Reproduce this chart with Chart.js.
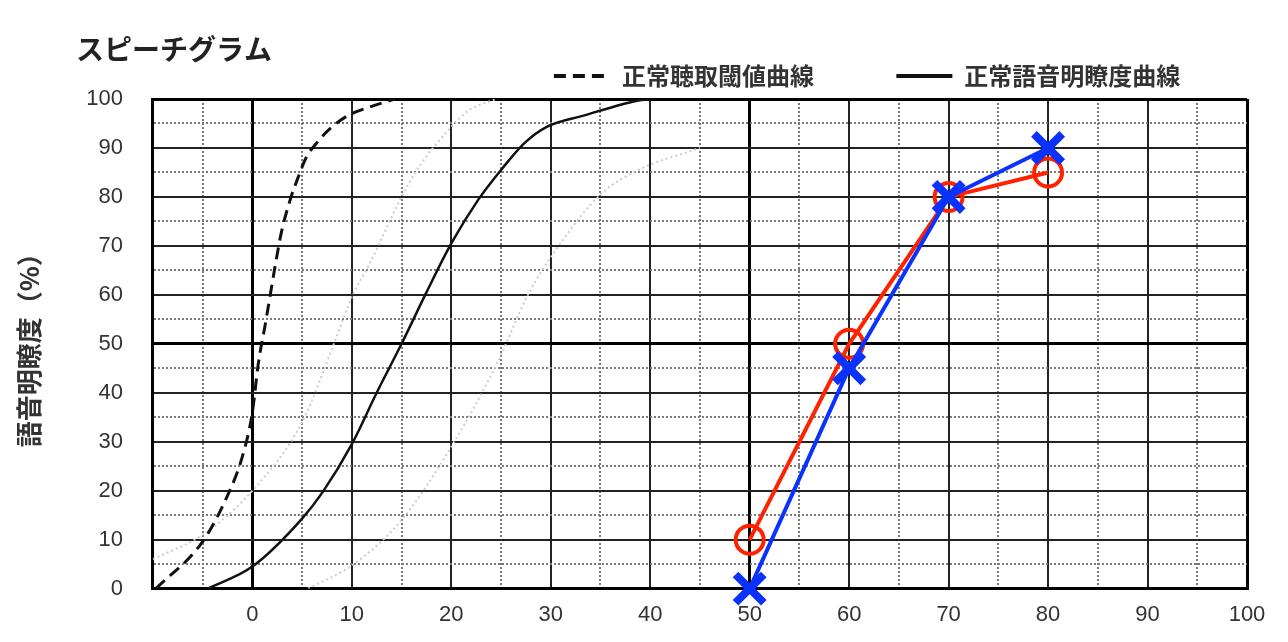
<!DOCTYPE html>
<html lang="ja">
<head>
<meta charset="utf-8">
<title>スピーチグラム</title>
<script src="https://cdn.jsdelivr.net/npm/chart.js@4.4.1/dist/chart.umd.min.js"></script>
<style>
  html, body { margin: 0; padding: 0; background: #fff; }
  #wrap { width: 1288px; height: 642px; position: relative; }
</style>
</head>
<body>
<div id="wrap"><canvas id="speech-chart"></canvas></div>
<script>
// Normal hearing reference curves (x = level dB, y = intelligibility %)
const thresholdX = [-9.7, -5, -2.5, -1, 0, 0.6, 1.3, 2.3, 2.9, 3.8, 4.6, 5.4, 6.7, 8, 9.6, 11.7, 14.3];
const thresholdY = [0, 9.6, 19, 27, 36, 46, 54, 66, 72.6, 79.4, 84, 88, 91.6, 94.3, 96.6, 98.3, 100];

const normalX = [-4.5, 0, 5, 7.1, 10, 12.5, 15, 17.5, 20, 22.7, 25, 27.3, 29.6, 33.3, 38.8, 40];
const normalY = [0, 4.5, 14.3, 19.8, 29.5, 40, 50, 60.5, 70.5, 79.4, 85.5, 90.9, 94.3, 96.6, 99.7, 100];

// Faint range curves either side of the normal curve
const lowerBandX = [-10, -5, 0, 5, 8.2, 10.1, 11.7, 15, 16.7, 20, 21.7, 24.5];
const lowerBandY = [6, 11, 20, 34, 50, 60, 66, 80, 86, 94.3, 97.6, 100];
const upperBandX = [5.6, 10.2, 15, 20, 24.6, 27.7, 30.8, 35, 38.8, 45];
const upperBandY = [0, 5, 14, 29, 46, 60, 70, 80.5, 85.5, 90];

// Measured results
const testLevels = [50, 60, 70, 80];
const redScores = [10, 50, 80, 85];
const blueScores = [0, 45, 80, 90];

const titleText = 'スピーチグラム';
const yTitleText = '語音明瞭度（%）';
const thresholdLabel = '正常聴取閾値曲線';
const normalLabel = '正常語音明瞭度曲線';

function toPoints(xs, ys) {
    return xs.map((x, i) => ({ x: x, y: ys[i] }));
}

// grid style per tick: heavy lines at the frame and the 0 dB / 50 marks
function gridColor(ctx, heavy) {
    if (!ctx.tick) return '#000';
    const v = ctx.tick.value;
    if (heavy.includes(v)) return '#000';
    return v % 10 === 0 ? '#222' : '#7a7a7a';
}
function gridWidth(ctx, heavy) {
    if (!ctx.tick) return 3;
    return heavy.includes(ctx.tick.value) ? 3 : 2;
}
function gridDash(ctx) {
    if (!ctx.tick) return [];
    return ctx.tick.value % 10 === 0 ? [] : [2, 2];
}

const xHeavy = [-10, 0, 50, 100];
const yHeavy = [0, 50, 100];

// move title and legend to where the original sheet has them
const placeHeader = {
    id: 'placeHeader',
    afterLayout(chart) {
        const area = chart.chartArea;
        chart.titleBlock.left = area.left - 77;
        chart.titleBlock.top += 3;
        chart.titleBlock.bottom += 3;
        chart.legend.left = area.left + 396;
        chart.legend.top -= 1;
        chart.legend.bottom -= 1;
    }
};

const tickFont = { family: "'Liberation Sans', Arial, sans-serif", size: 22 };

Chart.defaults.font.family = "'Noto Sans CJK JP', 'Noto Sans', sans-serif";
Chart.defaults.color = '#333';

const ctx = document.getElementById('speech-chart').getContext('2d');
window.speechChart = new Chart(ctx, {
    type: 'line',
    data: {
        datasets: [
            {
                label: thresholdLabel,
                data: toPoints(thresholdX, thresholdY),
                borderColor: '#111',
                backgroundColor: 'transparent',
                borderWidth: 3,
                borderDash: [12, 7],
                pointRadius: 0,
                cubicInterpolationMode: 'monotone',
                order: 2
            },
            {
                label: normalLabel,
                data: toPoints(normalX, normalY),
                borderColor: '#111',
                backgroundColor: 'transparent',
                borderWidth: 2.5,
                pointRadius: 0,
                cubicInterpolationMode: 'monotone',
                order: 2
            },
            {
                label: 'lower',
                data: toPoints(lowerBandX, lowerBandY),
                borderColor: '#cccccc',
                borderWidth: 2,
                borderDash: [2, 3],
                pointRadius: 0,
                cubicInterpolationMode: 'monotone',
                order: 3
            },
            {
                label: 'upper',
                data: toPoints(upperBandX, upperBandY),
                borderColor: '#cccccc',
                borderWidth: 2,
                borderDash: [2, 3],
                pointRadius: 0,
                cubicInterpolationMode: 'monotone',
                order: 3
            },
            {
                label: 'red',
                data: toPoints(testLevels, redScores),
                borderColor: '#ff2200',
                backgroundColor: 'transparent',
                borderWidth: 4,
                pointStyle: 'circle',
                pointRadius: 14,
                pointBorderWidth: 4,
                pointBackgroundColor: 'transparent',
                clip: false,
                order: 1
            },
            {
                label: 'blue',
                data: toPoints(testLevels, blueScores),
                borderColor: '#0a32ff',
                backgroundColor: '#0a32ff',
                borderWidth: 4,
                pointStyle: 'crossRot',
                pointRadius: 20,
                pointBorderWidth: 8,
                clip: false,
                order: 0
            }
        ]
    },
    options: {
        responsive: true,
        maintainAspectRatio: false,
        animation: false,
        layout: {
            padding: { left: 14, right: 41, top: 0, bottom: 0 }
        },
        scales: {
            x: {
                type: 'linear',
                min: -10,
                max: 100,
                ticks: {
                    stepSize: 5,
                    autoSkip: false,
                    maxRotation: 0,
                    padding: 13.5,
                    color: '#333',
                    font: tickFont,
                    callback: function(value) {
                        return value >= 0 && value % 10 === 0 ? value : '';
                    }
                },
                grid: {
                    drawTicks: false,
                    color: c => gridColor(c, xHeavy),
                    lineWidth: c => gridWidth(c, xHeavy)
                },
                border: {
                    display: true,
                    color: '#000',
                    width: 3,
                    dash: gridDash
                }
            },
            y: {
                min: 0,
                max: 100,
                ticks: {
                    stepSize: 5,
                    autoSkip: false,
                    padding: 30,
                    color: '#333',
                    font: tickFont,
                    callback: function(value) {
                        return value % 10 === 0 ? value : '';
                    }
                },
                grid: {
                    drawTicks: false,
                    color: c => gridColor(c, yHeavy),
                    lineWidth: c => gridWidth(c, yHeavy)
                },
                border: {
                    display: true,
                    color: '#000',
                    width: 3,
                    dash: gridDash
                },
                title: {
                    display: true,
                    text: yTitleText,
                    color: '#333',
                    font: { size: 26, weight: 'bold' },
                    padding: { top: 0, bottom: 11 }
                }
            }
        },
        plugins: {
            title: {
                display: true,
                text: titleText,
                align: 'start',
                color: '#222',
                font: { size: 28, weight: 'bold', lineHeight: 1 },
                padding: { top: 32, bottom: 0 }
            },
            legend: {
                display: true,
                position: 'top',
                align: 'start',
                labels: {
                    color: '#333',
                    font: { size: 24, weight: 'bold' },
                    padding: 5,
                    usePointStyle: true,
                    pointStyle: 'line',
                    pointStyleWidth: 56,
                    filter: item => item.datasetIndex < 2,
                    generateLabels: function(chart) {
                        const items = Chart.defaults.plugins.legend.labels.generateLabels(chart);
                        items.forEach(item => {
                            const ds = chart.data.datasets[item.datasetIndex];
                            item.lineDash = ds.borderDash || [];
                            item.lineWidth = 4;
                            item.strokeStyle = ds.borderColor;
                            // wider gap after the first entry
                            if (item.datasetIndex === 0) item.text = item.text + '\u3000\u3000\u3000 ';
                        });
                        return items;
                    }
                }
            },
            tooltip: { enabled: false }
        }
    },
    plugins: [placeHeader]
});
</script>
</body>
</html>
